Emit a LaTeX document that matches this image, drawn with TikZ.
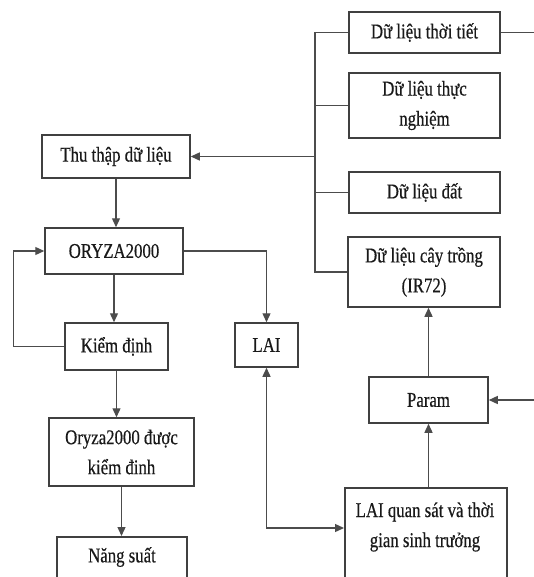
\documentclass[tikz,border=0pt]{standalone}
\usepackage{fontspec}
\setmainfont{Liberation Serif}[FakeStretch=0.8,FakeBold=0.4]
\usetikzlibrary{arrows.meta,calc}
\begin{document}
\begin{tikzpicture}[x=1pt,y=-1pt,
  >={Triangle[length=9pt,width=8pt]},
  box/.style={draw=black!75, line width=1.5pt, fill=white, inner sep=0pt, align=center},
  txt/.style={align=center, inner sep=0pt},
  conn/.style={draw=black!70, line width=1.3pt},
  arr/.style={conn, ->},
  every node/.style={font=\fontsize{21}{30}\selectfont, text=black!90}]
\useasboundingbox (0,0) rectangle (533,577);
% boxes
\node[box, minimum width=151pt, minimum height=41pt] (thoitiet) at (424.5,32.5) {Dữ liệu thời tiết};
\node[box, minimum width=151pt, minimum height=65pt] (thucnghiem) at (424.5,105.5) {Dữ liệu thực\\nghiệm};
\node[box, minimum width=151pt, minimum height=41pt] (dat) at (424.5,192.5) {Dữ liệu đất};
\node[box, minimum width=152pt, minimum height=70pt] (caytrong) at (424,272) {Dữ liệu cây trồng\\(IR72)};
\node[box, minimum width=148pt, minimum height=43pt] (thuthap) at (116,156.5) {Thu thập dữ liệu};
\node[box, minimum width=138pt, minimum height=46pt] (oryza) at (114,251) {ORYZA2000};
\node[box, minimum width=103pt, minimum height=47pt] (kiemdinh) at (116.5,346.5) {Kiểm định};
\node[box, minimum width=63pt, minimum height=44pt] (lai) at (266.5,345) {LAI};
\node[box, minimum width=119pt, minimum height=46pt] (param) at (428.5,400) {Param};
\node[box, minimum width=145pt, minimum height=68pt] (oryzakd) at (121.5,452) {Oryza2000 được\\kiểm đinh};
\node[box, minimum width=130pt, minimum height=70pt, anchor=north] (nangsuat) at (122,536) {};
\node[txt] (nangsuatt) at (122,557) {Năng suất};
\node[box, minimum width=162pt, minimum height=120pt, anchor=north west] (laiqs) at (344,487) {};
\node[txt] (laiqst) at (425,527) {LAI quan sát và thời\\gian sinh trưởng};
% connectors
\coordinate (bus) at (315,0);
\coordinate (outA) at (545,32.5);
\coordinate (outB) at (545,400);
\draw[conn] (thoitiet.west) -| (bus |- caytrong.west) -- (caytrong.west);
\draw[conn] (bus |- thucnghiem.west) -- (thucnghiem.west);
\draw[conn] (bus |- dat.west) -- (dat.west);
\draw[arr] (bus |- thuthap.east) -- (thuthap.east);
\draw[conn] (thoitiet.east) -- (outA);
\draw[arr] (thuthap.south) -- (thuthap.south |- oryza.north);
\draw[arr] (oryza.east) -| (lai.north);
\draw[arr] (oryza.south) -- (oryza.south |- kiemdinh.north);
\draw[arr] (kiemdinh.west) -- ++(-51,0) |- (oryza.west);
\draw[arr] (kiemdinh.south) -- (kiemdinh.south |- oryzakd.north);
\draw[arr] (oryzakd.south) -- (oryzakd.south |- nangsuat.north);
\draw[conn, <->] (lai.south) |- ($(laiqs.north west)+(0,41)$);
\draw[arr] (param.south |- laiqs.north) -- (param.south);
\draw[arr] (outB) -- (param.east);
\draw[arr] (param.north) -- (param.north |- caytrong.south);
\end{tikzpicture}
\end{document}
